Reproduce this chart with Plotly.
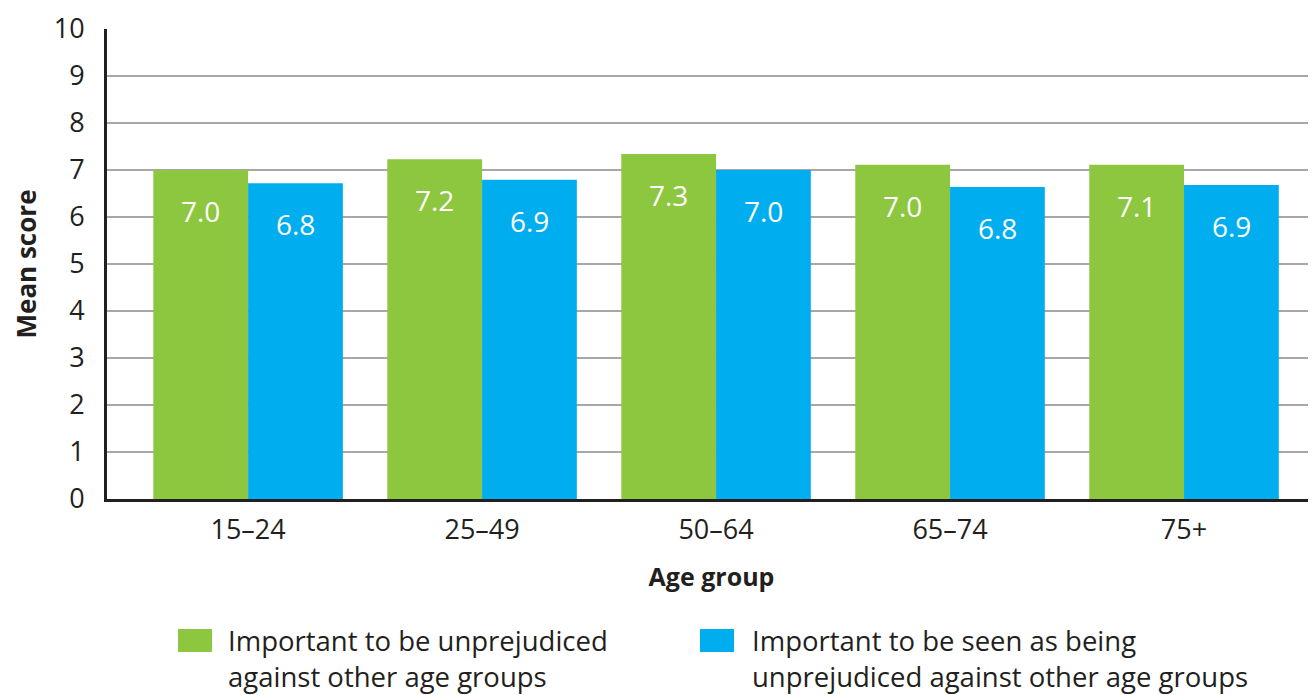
import plotly.graph_objects as go

# ---- data ----
age_groups = ["15–24", "25–49", "50–64", "65–74", "75+"]
series_names = [
    "Important to be unprejudiced<br>against other age groups",
    "Important to be seen as being<br>unprejudiced against other age groups",
]
unprejudiced = [7.0, 7.23, 7.34, 7.11, 7.11]
seen_unprejudiced = [6.72, 6.79, 7.0, 6.64, 6.68]
unprejudiced_labels = ["7.0", "7.2", "7.3", "7.0", "7.1"]
seen_labels = ["6.8", "6.9", "7.0", "6.8", "6.9"]
y_ticks = [0, 1, 2, 3, 4, 5, 6, 7, 8, 9, 10]

GREEN = "#8dc63f"
BLUE = "#00aeef"
DARK = "#231f20"
FONT = "Open Sans"

OFF = 8  # page body margin
W, H = 1316 - OFF, 695 - OFF
L, R, T, B = 107 - OFF, 0, 29 - OFF, 196
PW, PH = W - L - R, H - T - B

fig = go.Figure()
fig.add_trace(go.Bar(x=age_groups, y=unprejudiced, name=series_names[0],
                     marker=dict(color=GREEN, line=dict(width=0))))
fig.add_trace(go.Bar(x=age_groups, y=seen_unprejudiced, name=series_names[1],
                     marker=dict(color=BLUE, line=dict(width=0))))

BARGAP = 0.19
half = (1 - BARGAP) / 4  # offset of each bar centre from category centre

annotations = []
for i in range(len(age_groups)):
    annotations.append(dict(x=i - half, y=unprejudiced[i], xref="x", yref="y",
                            text=unprejudiced_labels[i], showarrow=False,
                            yanchor="middle", yshift=-41,
                            font=dict(family=FONT, size=28, color="white")))
    annotations.append(dict(x=i + half, y=seen_unprejudiced[i], xref="x", yref="y",
                            text=seen_labels[i], showarrow=False,
                            yanchor="middle", yshift=-41,
                            font=dict(family=FONT, size=28, color="white")))


def px_x(p):
    # p is a pixel x in the final screenshot
    return (p - OFF - L) / PW


def px_y(p):
    return (H - B - (p - OFF)) / PH


# custom legend
shapes = []
legend_items = [(178, 212, 226, GREEN, series_names[0]),
                (700, 734, 750, BLUE, series_names[1])]
for x0, x1, tx, col, name in legend_items:
    shapes.append(dict(type="rect", xref="paper", yref="paper",
                       x0=px_x(x0), x1=px_x(x1), y0=px_y(652), y1=px_y(629),
                       fillcolor=col, line=dict(width=0)))
    annotations.append(dict(x=px_x(tx), y=px_y(620), xref="paper", yref="paper",
                            text=name, showarrow=False, xanchor="left", yanchor="top",
                            align="left",
                            font=dict(family=FONT, size=27.5, color=DARK)))

fig.update_layout(
    width=W, height=H,
    margin=dict(l=L, r=R, t=T, b=B),
    paper_bgcolor="white", plot_bgcolor="white",
    barmode="group", bargap=BARGAP, bargroupgap=0,
    showlegend=False,
    font=dict(family=FONT, color=DARK),
    annotations=annotations,
    shapes=shapes,
    xaxis=dict(
        range=[-0.603, 4.564],
        showline=True, linecolor=DARK, linewidth=3,
        ticks="outside", ticklen=5, tickcolor="rgba(0,0,0,0)",
        tickfont=dict(family=FONT, size=27, color=DARK),
        title=dict(text="<b>Age group</b>", standoff=23,
                   font=dict(family=FONT, size=25, color=DARK)),
        showgrid=False, zeroline=False,
    ),
    yaxis=dict(
        range=[0, 10], tickvals=y_ticks,
        showline=True, linecolor=DARK, linewidth=3,
        showgrid=True, gridcolor="#a7a7a7", gridwidth=2,
        ticks="outside", ticklen=14, tickcolor="rgba(0,0,0,0)",
        tickfont=dict(family=FONT, size=27, color=DARK),
        title=dict(text="<b>Mean score</b>", standoff=14,
                   font=dict(family=FONT, size=26, color=DARK)),
        zeroline=False,
    ),
)

fig.write_html("out.html")
